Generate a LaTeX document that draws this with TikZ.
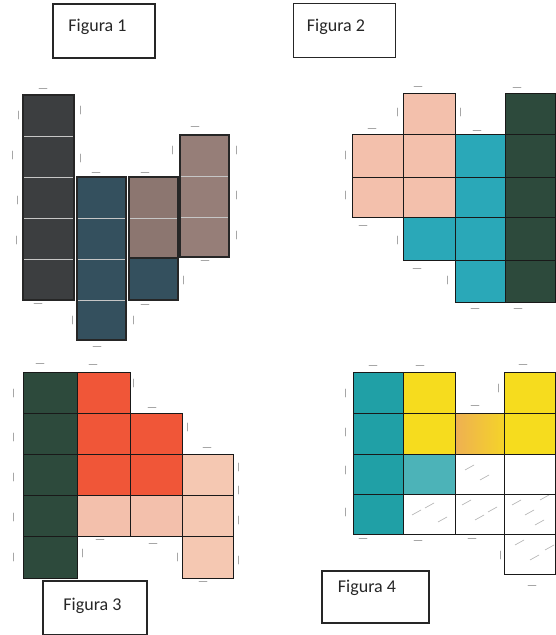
\documentclass[tikz,border=0pt]{standalone}
\usepackage{fontspec}
\setmainfont{Carlito}
\definecolor{fdark}{RGB}{60,62,64}
\definecolor{fblue}{RGB}{52,80,94}
\definecolor{fbrown}{RGB}{140,118,112}
\definecolor{fbrownb}{RGB}{150,126,120}
\definecolor{fpink}{RGB}{243,192,172}
\definecolor{fteal}{RGB}{42,168,184}
\definecolor{fgreen}{RGB}{45,74,60}
\definecolor{fred}{RGB}{240,86,56}
\definecolor{fpeach}{RGB}{245,200,178}
\definecolor{fteal4}{RGB}{32,160,166}
\definecolor{fyellow}{RGB}{246,220,30}
\definecolor{forange}{RGB}{238,176,82}
\newcommand{\cellq}[5]{\fill[#5] (#1,#2) rectangle (#3,#4);}
\newcommand{\tkh}[2]{\draw[mk] (#1-4,#2) -- (#1+4,#2);}
\newcommand{\tkv}[2]{\draw[mk] (#1,#2-4) -- (#1,#2+4);}
\begin{document}
\begin{tikzpicture}[x=1pt,y=-1pt,
  labelbox/.style={draw=black!85, line width=1.2pt, minimum width=102pt, minimum height=54pt, inner sep=0pt},
  labeltext/.style={font=\fontsize{18}{20}\selectfont, text=black!85, inner sep=0pt},
  gridl/.style={draw=black!90, line width=1pt},
  softl/.style={draw=white!55!gray, line width=0.8pt},
  outl/.style={draw=black!85, line width=1.3pt},
  mk/.style={draw=gray!70, line width=0.8pt, line cap=round},
  scrib/.style={draw=gray!60, line width=0.6pt}]
\useasboundingbox (0,0) rectangle (556,635);
\fill[white] (0,0) rectangle (556,635);

% ---------- labels ----------
\node[labelbox] (b1) at (104,31) {};
\node[labeltext] (t1) at (97.5,27) {Figura 1};
\node[labelbox] (b2) at (344.5,30.5) {};
\node[labeltext] (t2) at (336,27) {Figura 2};
\node[labelbox, minimum width=104pt] (b3) at (95,608) {};
\node[labeltext] (t3) at (92.5,606) {Figura 3};
\node[labelbox, minimum width=107pt, minimum height=52pt] (b4) at (375.5,597) {};
\node[labeltext] (t4) at (367,588) {Figura 4};

% ---------- Figura 1 ----------
\foreach \ya/\yb in {95/136,136/177,177/218,218/259,259/300}{
  \cellq{23}{\ya}{74}{\yb}{fdark}
  \draw[softl] (23,\ya) rectangle (74,\yb);}
\foreach \ya/\yb in {177/218,218/259,259/300,300/340}{
  \cellq{77}{\ya}{126}{\yb}{fblue}
  \draw[softl] (77,\ya) rectangle (126,\yb);}
\foreach \ya/\yb in {177/218,218/258}{
  \cellq{129}{\ya}{178}{\yb}{fbrown}
  \draw[softl] (129,\ya) rectangle (178,\yb);}
\cellq{129}{258}{178}{300}{fblue}
\foreach \ya/\yb in {135/176,176/217,217/257}{
  \cellq{180}{\ya}{229}{\yb}{fbrownb}
  \draw[softl] (180,\ya) rectangle (229,\yb);}
\draw[outl] (23,95) rectangle (74,300);
\draw[outl] (77,177) rectangle (126,340);
\draw[outl] (129,177) rectangle (178,258);
\draw[outl] (129,258) rectangle (178,300);
\draw[outl] (180,135) rectangle (229,257);

% ---------- Figura 2 ----------
\foreach \ya/\yb in {134/177,177/217}{\cellq{352}{\ya}{403}{\yb}{fpink}}
\foreach \ya/\yb in {93/134,134/177,177/217}{\cellq{403}{\ya}{455}{\yb}{fpink}}
\cellq{403}{217}{455}{260}{fteal}
\foreach \ya/\yb in {134/177,177/217,217/260,260/302}{\cellq{455}{\ya}{505}{\yb}{fteal}}
\foreach \ya/\yb in {93/134,134/177,177/217,217/260,260/302}{\cellq{505}{\ya}{555}{\yb}{fgreen}}
\foreach \ya/\yb in {134/177,177/217}{\draw[gridl] (352,\ya) rectangle (403,\yb);}
\foreach \ya/\yb in {93/134,134/177,177/217,217/260}{\draw[gridl] (403,\ya) rectangle (455,\yb);}
\foreach \ya/\yb in {134/177,177/217,217/260,260/302}{\draw[gridl] (455,\ya) rectangle (505,\yb);}
\foreach \ya/\yb in {93/134,134/177,177/217,217/260,260/302}{\draw[gridl] (505,\ya) rectangle (555,\yb);}

% ---------- Figura 3 ----------
\foreach \ya/\yb in {372/413,413/454,454/495,495/536,536/578}{\cellq{23}{\ya}{77}{\yb}{fgreen}}
\foreach \ya/\yb in {372/413,413/454,454/495}{\cellq{77}{\ya}{130}{\yb}{fred}}
\cellq{77}{495}{130}{536}{fpink}
\foreach \ya/\yb in {413/454,454/495}{\cellq{130}{\ya}{182}{\yb}{fred}}
\cellq{130}{495}{182}{536}{fpink}
\foreach \ya/\yb in {454/495,495/536,536/578}{\cellq{182}{\ya}{233}{\yb}{fpeach}}
\foreach \ya/\yb in {372/413,413/454,454/495,495/536,536/578}{\draw[gridl] (23,\ya) rectangle (77,\yb);}
\foreach \ya/\yb in {372/413,413/454,454/495,495/536}{\draw[gridl] (77,\ya) rectangle (130,\yb);}
\foreach \ya/\yb in {413/454,454/495,495/536}{\draw[gridl] (130,\ya) rectangle (182,\yb);}
\foreach \ya/\yb in {454/495,495/536,536/578}{\draw[gridl] (182,\ya) rectangle (233,\yb);}

% ---------- Figura 4 ----------
\foreach \ya/\yb in {372/413,413/454,454/494,494/534}{\cellq{353}{\ya}{403}{\yb}{fteal4}}
\foreach \ya/\yb in {372/413,413/454}{\cellq{403}{\ya}{455}{\yb}{fyellow}}
\cellq{403}{454}{455}{494}{fteal4!80}
\shade[left color=forange, right color=fyellow!80!forange] (455,413) rectangle (504,454);
\foreach \ya/\yb in {372/413,413/454}{\cellq{504}{\ya}{555}{\yb}{fyellow}}
% sketchy strokes in pale cells
\foreach \x/\y in {412/515,425/508,438/522,462/505,475/520,488/512,465/470,480/480,512/505,525/515,540/500,535/525,515/545,530/560,545/550}{
  \draw[scrib] (\x,\y) -- ++(9,-5);}
\foreach \ya/\yb in {372/413,413/454,454/494,494/534}{\draw[gridl] (353,\ya) rectangle (403,\yb);}
\foreach \ya/\yb in {372/413,413/454,454/494,494/534}{\draw[gridl] (403,\ya) rectangle (455,\yb);}
\foreach \ya/\yb in {413/454,454/494,494/534}{\draw[gridl] (455,\ya) rectangle (504,\yb);}
\foreach \ya/\yb in {372/413,413/454,454/494,494/534,534/574}{\draw[gridl] (504,\ya) rectangle (555,\yb);}

% ---------- small hand marks ----------
% fig 1
\tkh{43}{88}\tkh{96}{172}\tkh{145}{172}\tkh{195}{126}
\tkv{80}{110}\tkv{80}{158}\tkv{18}{115}\tkv{12}{155}\tkv{17}{200}\tkv{16}{240}
\tkv{236}{150}\tkv{236}{195}\tkv{236}{235}\tkv{172}{150}
\tkh{38}{303}\tkh{145}{304}\tkv{183}{280}\tkh{205}{260}
\tkv{72}{320}\tkv{133}{320}\tkh{97}{346}
% fig 2
\tkh{418}{86}\tkh{517}{87}\tkv{397}{112}\tkv{460}{112}\tkh{372}{128}
\tkv{345}{155}\tkv{345}{195}\tkh{477}{130}\tkh{363}{225}\tkv{397}{240}
\tkh{417}{268}\tkv{447}{280}\tkh{475}{308}\tkh{518}{308}
% fig 3
\tkh{40}{363}\tkh{93}{364}\tkv{133}{383}\tkh{152}{407}\tkv{187}{427}\tkh{207}{447}
\tkv{238}{467}\tkv{238}{490}\tkv{238}{520}\tkv{238}{560}\tkv{177}{557}
\tkh{203}{581}\tkh{153}{543}\tkh{100}{539}
\tkv{13}{393}\tkv{13}{437}\tkv{13}{477}\tkv{13}{517}\tkv{13}{557}\tkv{82}{553}
% fig 4
\tkh{373}{365}\tkh{420}{365}\tkh{523}{364}\tkh{475}{405}\tkv{498}{388}
\tkv{345}{393}\tkv{345}{432}\tkv{345}{470}\tkv{345}{512}
\tkh{363}{538}\tkh{418}{540}\tkh{472}{538}\tkv{500}{555}\tkh{532}{585}
\end{tikzpicture}
\end{document}
